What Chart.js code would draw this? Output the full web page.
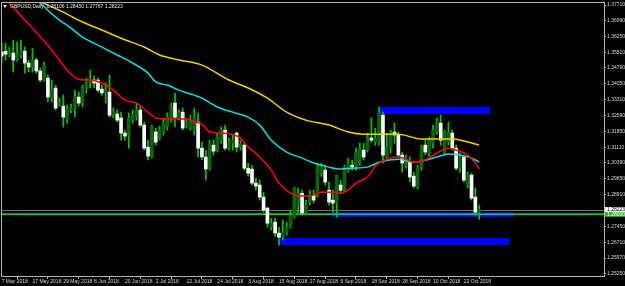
<!DOCTYPE html>
<html>
<head>
<meta charset="utf-8">
<script src="https://cdn.jsdelivr.net/npm/chart.js@4.4.0/dist/chart.umd.min.js"></script>
<style>
  html, body { margin: 0; padding: 0; background: #000; }
  #wrap { width: 625px; height: 286px; }
</style>
</head>
<body>
<div id="wrap"><canvas id="myChart"></canvas></div>
<script>
// GBPUSD daily, bar 0 = 7 May 2018, a date label every 8 bars
let dateLabels = ['7 May 2018', '17 May 2018', '29 May 2018', '8 Jun 2018', '20 Jun 2018', '2 Jul 2018',
  '12 Jul 2018', '24 Jul 2018', '3 Aug 2018', '15 Aug 2018', '27 Aug 2018', '6 Sep 2018',
  '18 Sep 2018', '28 Sep 2018', '10 Oct 2018', '22 Oct 2018'];

let opens = [
  1.3553, 1.3557, 1.3539, 1.3548, 1.3516, 1.3539, 1.3557, 1.3502, 1.3483, 1.3516,
  1.3465, 1.3423, 1.3432, 1.3339, 1.3386, 1.3316, 1.3302, 1.3242, 1.3284, 1.3293,
  1.3344, 1.3316, 1.3386, 1.3414, 1.3423, 1.3423, 1.3381, 1.3367, 1.3367, 1.3260,
  1.3265, 1.3247, 1.3177, 1.3168, 1.3237, 1.3251, 1.3284, 1.3214, 1.3112, 1.3066,
  1.3182, 1.3154, 1.3182, 1.3205, 1.3237, 1.3316, 1.3251, 1.3274, 1.3214, 1.3205,
  1.3191, 1.3228, 1.3107, 1.3066, 1.3014, 1.3121, 1.3098, 1.3144, 1.3191, 1.3107,
  1.3130, 1.3177, 1.3112, 1.3121, 1.3014, 1.3010, 1.2945, 1.2936, 1.2880, 1.2829,
  1.2741, 1.2764, 1.2713, 1.2694, 1.2713, 1.2741, 1.2787, 1.2843, 1.2898, 1.2810,
  1.2857, 1.2889, 1.2889, 1.2991, 1.3005, 1.2912, 1.2866, 1.2857, 1.2936, 1.2912,
  1.3005, 1.3028, 1.3019, 1.3038, 1.3098, 1.3098, 1.3154, 1.3135, 1.3135, 1.3260,
  1.3066, 1.3112, 1.3182, 1.3168, 1.3075, 1.3028, 1.3042, 1.2977, 1.2926, 1.3019,
  1.3121, 1.3084, 1.3130, 1.3182, 1.3223, 1.3084, 1.3135, 1.3177, 1.3107, 1.3014,
  1.3066, 1.2936, 1.2982, 1.2880, 1.28106
];
let highs = [
  1.3594, 1.3594, 1.3576, 1.3608, 1.3599, 1.3608, 1.3576, 1.3516, 1.3571, 1.3525,
  1.3478, 1.3506, 1.3446, 1.3423, 1.3400, 1.3339, 1.3353, 1.3307, 1.3311, 1.3376,
  1.3367, 1.3400, 1.3432, 1.3469, 1.3441, 1.3432, 1.3400, 1.3409, 1.3446, 1.3293,
  1.3284, 1.3274, 1.3191, 1.3270, 1.3284, 1.3316, 1.3302, 1.3228, 1.3144, 1.3214,
  1.3200, 1.3209, 1.3247, 1.3270, 1.3316, 1.3363, 1.3284, 1.3293, 1.3247, 1.3260,
  1.3293, 1.3270, 1.3135, 1.3098, 1.3144, 1.3144, 1.3177, 1.3205, 1.3214, 1.3154,
  1.3168, 1.3182, 1.3144, 1.3135, 1.3038, 1.3028, 1.2968, 1.2959, 1.2903, 1.2833,
  1.2782, 1.2782, 1.2741, 1.2773, 1.2764, 1.2820, 1.2926, 1.2922, 1.2912, 1.2866,
  1.2912, 1.2912, 1.3038, 1.3038, 1.3028, 1.2950, 1.2912, 1.2982, 1.2959, 1.3028,
  1.3061, 1.3052, 1.3107, 1.3130, 1.3130, 1.3177, 1.3247, 1.3200, 1.3298, 1.3274,
  1.3177, 1.3191, 1.3223, 1.3182, 1.3089, 1.3075, 1.3066, 1.2996, 1.3028, 1.3121,
  1.3144, 1.3158, 1.3214, 1.3247, 1.3260, 1.3191, 1.3228, 1.3191, 1.3121, 1.3084,
  1.3075, 1.2996, 1.2991, 1.2922, 1.28430
];
let lows = [
  1.3506, 1.3516, 1.3530, 1.3460, 1.3511, 1.3525, 1.3455, 1.3460, 1.3460, 1.3455,
  1.3414, 1.3418, 1.3321, 1.3321, 1.3284, 1.3302, 1.3205, 1.3223, 1.3270, 1.3251,
  1.3302, 1.3298, 1.3363, 1.3386, 1.3386, 1.3367, 1.3353, 1.3316, 1.3251, 1.3247,
  1.3228, 1.3144, 1.3144, 1.3107, 1.3223, 1.3237, 1.3205, 1.3098, 1.3052, 1.3061,
  1.3121, 1.3144, 1.3168, 1.3191, 1.3228, 1.3205, 1.3237, 1.3191, 1.3200, 1.3191,
  1.3168, 1.3066, 1.3052, 1.2959, 1.3005, 1.3075, 1.3089, 1.3130, 1.3098, 1.3098,
  1.3098, 1.3089, 1.3098, 1.3005, 1.2977, 1.2936, 1.2912, 1.2866, 1.2810, 1.2741,
  1.2727, 1.2699, 1.2657, 1.2680, 1.2704, 1.2736, 1.2782, 1.2806, 1.2796, 1.2801,
  1.2843, 1.2852, 1.2880, 1.2977, 1.2936, 1.2843, 1.2810, 1.2787, 1.2898, 1.2903,
  1.2996, 1.3005, 1.3005, 1.3028, 1.3052, 1.3089, 1.3135, 1.3121, 1.3121, 1.3038,
  1.3052, 1.3084, 1.3130, 1.3066, 1.2996, 1.3014, 1.2950, 1.2922, 1.2917, 1.3005,
  1.3075, 1.3070, 1.3107, 1.3172, 1.3121, 1.3075, 1.3121, 1.3098, 1.3005, 1.2996,
  1.2950, 1.2922, 1.2866, 1.2796, 1.27767
];
let closes = [
  1.3534, 1.3543, 1.3548, 1.3516, 1.3543, 1.3553, 1.3502, 1.3483, 1.3516, 1.3465,
  1.3423, 1.3492, 1.3344, 1.3376, 1.3293, 1.3321, 1.3251, 1.3284, 1.3293, 1.3344,
  1.3316, 1.3390, 1.3414, 1.3418, 1.3409, 1.3376, 1.3363, 1.3376, 1.3260, 1.3274,
  1.3237, 1.3177, 1.3163, 1.3247, 1.3260, 1.3284, 1.3214, 1.3107, 1.3070, 1.3205,
  1.3135, 1.3191, 1.3223, 1.3251, 1.3302, 1.3251, 1.3270, 1.3200, 1.3228, 1.3237,
  1.3247, 1.3107, 1.3066, 1.3010, 1.3130, 1.3093, 1.3158, 1.3191, 1.3107, 1.3130,
  1.3144, 1.3112, 1.3126, 1.3014, 1.2991, 1.2945, 1.2931, 1.2880, 1.2820, 1.2759,
  1.2759, 1.2713, 1.2694, 1.2718, 1.2741, 1.2796, 1.2922, 1.2898, 1.2806, 1.2843,
  1.2889, 1.2866, 1.3028, 1.3019, 1.2950, 1.2857, 1.2852, 1.2982, 1.2912, 1.3019,
  1.3042, 1.3019, 1.3089, 1.3107, 1.3066, 1.3158, 1.3144, 1.3154, 1.3270, 1.3075,
  1.3112, 1.3177, 1.3168, 1.3075, 1.3038, 1.3052, 1.2973, 1.2931, 1.3019, 1.3112,
  1.3089, 1.3144, 1.3191, 1.3228, 1.3144, 1.3182, 1.3182, 1.3107, 1.3014, 1.3066,
  1.2959, 1.2982, 1.2875, 1.2810, 1.28223
];

// moving averages: [bar, price]
let maRed = [[0, 1.3822], [2, 1.3780], [11, 1.3604], [13, 1.3562], [15, 1.3516], [17, 1.3469], [20, 1.3427],
  [23, 1.3423], [26, 1.3409], [29, 1.3376], [32, 1.3330], [35, 1.3316], [38, 1.3274], [40, 1.3247],
  [43, 1.3242], [48, 1.3242], [50, 1.3228], [52, 1.3219], [54, 1.3182], [57, 1.3177], [62, 1.3154],
  [64, 1.3112], [67, 1.3066], [70, 1.3005], [72, 1.2945], [75, 1.2898], [77, 1.2885], [80, 1.2885],
  [83, 1.2903], [86, 1.2903], [88, 1.2898], [90, 1.2912], [92, 1.2945], [95, 1.2973], [96, 1.2996],
  [97, 1.3024], [99, 1.3047], [101, 1.3061], [103, 1.3066], [105, 1.3056], [107, 1.3042], [110, 1.3052],
  [113, 1.3084], [116, 1.3107], [118, 1.3098], [121, 1.3075], [123, 1.3038], [124, 1.3010]];
let maCyan = [[0, 1.3890], [9, 1.3794], [14, 1.3715], [18, 1.3664], [21, 1.3622], [26, 1.3576], [30, 1.3539],
  [34, 1.3502], [38, 1.3455], [40, 1.3414], [43, 1.3400], [46, 1.3376], [50, 1.3353], [52, 1.3339],
  [56, 1.3298], [60, 1.3274], [64, 1.3251], [67, 1.3214], [70, 1.3144], [74, 1.3089], [78, 1.3061],
  [81, 1.3038], [85, 1.3019], [88, 1.3010], [91, 1.3014], [95, 1.3019], [98, 1.3042], [103, 1.3056],
  [107, 1.3042], [109, 1.3047], [113, 1.3066], [116, 1.3080], [119, 1.3075], [122, 1.3061], [124, 1.3042]];
let maYellow = [[0, 1.3864], [9, 1.3794], [16, 1.3738], [21, 1.3692], [26, 1.3655], [32, 1.3610], [37, 1.3576],
  [41, 1.3539], [46, 1.3516], [52, 1.3492], [59, 1.3423], [64, 1.3386], [69, 1.3339], [74, 1.3274],
  [79, 1.3237], [85, 1.3214], [90, 1.3182], [94, 1.3172], [98, 1.3172], [103, 1.3172], [109, 1.3149],
  [114, 1.3149], [117, 1.3149], [120, 1.3140], [124, 1.3121]];

let yTicks = [1.37710, 1.36990, 1.36250, 1.35510, 1.34790, 1.34050, 1.33310, 1.32590, 1.31850,
  1.31110, 1.30390, 1.29650, 1.28910, 1.27450, 1.26710, 1.25970, 1.25250];

// rectangles: from bar, to bar, top price, bottom price
let boxes = [[98, 126.8, 1.3298, 1.3265], [85.8, 132.8, 1.2810, 1.2787], [72, 131.8, 1.2690, 1.2657]];
let bidPrice = 1.28223;
let levelPrice = 1.28000;
let title = 'GBPUSD,Daily  1.28106 1.28430 1.27767 1.28223';

let wicks = [], bullBodies = [], bearBodies = [];
for (let i = 0; i < opens.length; i++) {
  wicks.push({x: i, y: [lows[i], highs[i]]});
  let body = {x: i, y: [opens[i], closes[i]]};
  if (closes[i] >= opens[i]) bullBodies.push(body); else bearBodies.push(body);
}
let toPoints = arr => arr.map(p => ({x: p[0], y: p[1]}));

const font = 'Liberation Sans';

const bgPlugin = {
  id: 'bg',
  beforeDraw(chart) {
    const c = chart.ctx;
    c.save();
    c.fillStyle = '#000';
    c.fillRect(0, 0, chart.width, chart.height);
    c.restore();
  }
};

const objectsPlugin = {
  id: 'objects',
  beforeDatasetsDraw(chart) {
    const {ctx, chartArea: a, scales: {x, y}} = chart;
    ctx.save();
    ctx.beginPath();
    ctx.rect(a.left, a.top, a.right - a.left, a.bottom - a.top);
    ctx.clip();
    ctx.fillStyle = '#0000ff';
    boxes.forEach(b => {
      let x1 = x.getPixelForValue(b[0]), x2 = x.getPixelForValue(b[1]);
      let y1 = y.getPixelForValue(b[2]), y2 = y.getPixelForValue(b[3]);
      ctx.fillRect(x1, y1, x2 - x1, y2 - y1);
    });
    let yb = Math.round(y.getPixelForValue(bidPrice)) + 0.5;
    ctx.strokeStyle = '#70707c';
    ctx.lineWidth = 1;
    ctx.beginPath(); ctx.moveTo(a.left, yb); ctx.lineTo(a.right, yb); ctx.stroke();
    let yl = y.getPixelForValue(levelPrice);
    ctx.strokeStyle = '#32b432';
    ctx.lineWidth = 2;
    ctx.beginPath(); ctx.moveTo(a.left, yl); ctx.lineTo(a.right, yl); ctx.stroke();
    ctx.restore();
  }
};

const framePlugin = {
  id: 'frame',
  afterDraw(chart) {
    const {ctx, chartArea: a, scales: {y}} = chart;
    ctx.save();
    ctx.strokeStyle = '#b4b4b4';
    ctx.lineWidth = 1;
    ctx.strokeRect(a.left + 0.5, a.top + 0.5, a.right - a.left, a.bottom - a.top);
    // title
    ctx.fillStyle = '#e8e8e8';
    ctx.beginPath();
    ctx.moveTo(3, 5); ctx.lineTo(7, 5); ctx.lineTo(5, 8); ctx.closePath(); ctx.fill();
    ctx.font = '5px "' + font + '"';
    ctx.textBaseline = 'middle';
    ctx.fillText(title, 10, 7);
    // price labels on the axis
    let yb = y.getPixelForValue(bidPrice);
    ctx.fillStyle = '#ffffff';
    ctx.fillRect(605, yb - 2.5, 20, 5);
    ctx.fillStyle = '#000';
    ctx.fillText(bidPrice.toFixed(5), 607, yb);
    let yl = y.getPixelForValue(levelPrice);
    ctx.fillStyle = '#32b432';
    ctx.fillRect(605, yl - 2.5, 20, 5);
    ctx.fillStyle = '#ffffff';
    ctx.fillText(levelPrice.toFixed(5), 607, yl);
    ctx.restore();
  }
};

let myChart = document.getElementById('myChart').getContext('2d');

let priceChart = new Chart(myChart, {
  type: 'bar',
  data: {
    datasets: [
      {type: 'line', data: toPoints(maRed), borderColor: '#ff0000', borderWidth: 1.5, pointRadius: 0, cubicInterpolationMode: 'monotone', order: 0},
      {type: 'line', data: toPoints(maCyan), borderColor: '#00dede', borderWidth: 1.5, pointRadius: 0, cubicInterpolationMode: 'monotone', order: 0},
      {type: 'line', data: toPoints(maYellow), borderColor: '#f0d000', borderWidth: 1.5, pointRadius: 0, cubicInterpolationMode: 'monotone', order: 0},
      {data: bearBodies, backgroundColor: '#ffffff', barThickness: 3, minBarLength: 1, grouped: false, order: 1},
      {data: bullBodies, backgroundColor: '#0a640a', barThickness: 3, minBarLength: 1, grouped: false, order: 1},
      {data: wicks, backgroundColor: '#00c800', barThickness: 1, grouped: false, order: 2},
    ]
  },
  options: {
    responsive: true,
    maintainAspectRatio: false,
    animation: false,
    layout: {padding: {left: 1, top: 2, right: 0, bottom: 0}},
    plugins: {legend: {display: false}, tooltip: {enabled: false}},
    scales: {
      x: {
        type: 'linear',
        min: -0.18,
        max: 156.4,
        offset: false,
        afterBuildTicks: s => { s.ticks = dateLabels.map((d, k) => ({value: k * 8})); },
        afterFit: s => { s.height = 10; s.paddingLeft = 0; s.paddingRight = 0; },
        ticks: {
          autoSkip: false, maxRotation: 0, align: 'start', padding: 0,
          color: '#d8d8d8', font: {family: font, size: 5},
          callback: (v, i) => dateLabels[i]
        },
        grid: {drawOnChartArea: false, drawTicks: true, tickLength: 3, color: '#b4b4b4'},
        border: {color: '#b4b4b4'}
      },
      y: {
        position: 'right',
        min: 1.2514,
        max: 1.3785,
        afterBuildTicks: s => { s.ticks = yTicks.map(v => ({value: v})); },
        afterFit: s => { s.width = 21; s.paddingTop = 0; s.paddingBottom = 0; },
        ticks: {
          padding: 1, color: '#d8d8d8', font: {family: font, size: 5},
          callback: v => v.toFixed(5)
        },
        grid: {drawOnChartArea: false, drawTicks: true, tickLength: 2, color: '#b4b4b4'},
        border: {color: '#b4b4b4'}
      }
    }
  },
  plugins: [bgPlugin, objectsPlugin, framePlugin]
});
</script>
</body>
</html>
